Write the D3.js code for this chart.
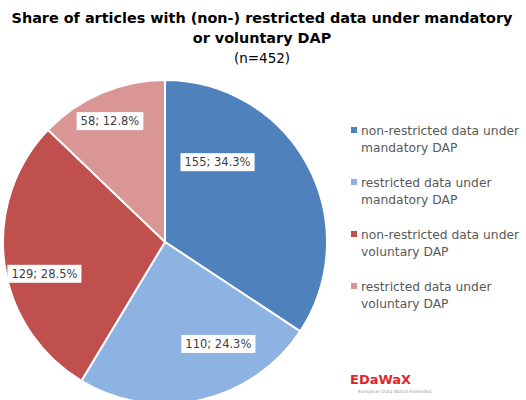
<!DOCTYPE html>
<html><head><meta charset="utf-8">
<script src="https://cdn.jsdelivr.net/npm/d3@7"></script>
<style>body{margin:0;background:#fff}svg{display:block}</style>
</head><body>
<script>
const categories = ["non-restricted data under mandatory DAP","restricted data under mandatory DAP","non-restricted data under voluntary DAP","restricted data under voluntary DAP"];
const legendLines = [["non-restricted data under","mandatory DAP"],["restricted data under","mandatory DAP"],["non-restricted data under","voluntary DAP"],["restricted data under","voluntary DAP"]];
const values = [155, 110, 129, 58];
const percents = ["34.3%","24.3%","28.5%","12.8%"];
const colors = ["#4F81BD","#8DB3E2","#C0504D","#D99694"];
// label placement within slice: [fraction of slice angle, fraction of radius]
const labelAngleFrac = [0.27, 0.33, 0.43, 0.47];
const labelRadiusFrac = [0.59, 0.71, 0.77, 0.82];

const W=526,H=400;
const svg=d3.select("body").append("svg").attr("width",W).attr("height",H);
const font="DejaVu Sans, Verdana, sans-serif";

svg.append("text").attr("x",262).attr("y",23).attr("text-anchor","middle").attr("font-family",font).attr("font-weight","bold").attr("font-size",14.4).attr("fill","#000").text("Share of articles with (non-) restricted data under mandatory");
svg.append("text").attr("x",262).attr("y",43).attr("text-anchor","middle").attr("font-family",font).attr("font-weight","bold").attr("font-size",14.4).attr("fill","#000").text("or voluntary DAP");
svg.append("text").attr("x",262).attr("y",63).attr("text-anchor","middle").attr("font-family",font).attr("font-size",13.5).attr("fill","#000").text("(n=452)");

const cx=165, cy=242, R=162;
const pie=d3.pie().sort(null).value(d=>d);
const arcs=pie(values);
const arc=d3.arc().innerRadius(0).outerRadius(R);
const g=svg.append("g").attr("transform",`translate(${cx},${cy})`);
g.selectAll("path").data(arcs).join("path").attr("d",arc).attr("fill",(d,i)=>colors[i]).attr("stroke","#fff").attr("stroke-width",2);

arcs.forEach((a,i)=>{
  const ang=a.startAngle+(a.endAngle-a.startAngle)*labelAngleFrac[i];
  const r=R*labelRadiusFrac[i];
  const x=Math.sin(ang)*r, y=-Math.cos(ang)*r;
  const lg=g.append("g").attr("transform",`translate(${x},${y})`);
  const t=lg.append("text").attr("text-anchor","middle").attr("dy","0.35em").attr("font-family",font).attr("font-size",11.5).attr("fill","#404040").text(values[i]+"; "+percents[i]);
  const bb=t.node().getBBox();
  lg.insert("rect","text").attr("x",bb.x-4).attr("y",bb.y-2).attr("width",bb.width+8).attr("height",bb.height+4).attr("fill","#fff");
});

const leg=svg.append("g");
legendLines.forEach((lines,i)=>{
  const y0=131+i*52;
  leg.append("rect").attr("x",351).attr("y",y0-4).attr("width",6).attr("height",6).attr("fill",colors[i]);
  lines.forEach((ln,j)=>{
    leg.append("text").attr("x",361).attr("y",y0+j*17).attr("dy","0.35em").attr("font-family",font).attr("font-size",12.3).attr("fill","#595959").text(ln);
  });
});

svg.append("text").attr("x",350).attr("y",384).attr("font-family",font).attr("font-size",13).attr("font-weight","bold").attr("fill","#E0262B").text("EDaWaX");
svg.append("text").attr("x",358).attr("y",393).attr("font-family",font).attr("font-size",4.6).attr("fill","#999").text("European Data Watch Extended");
</script>
</body></html>
